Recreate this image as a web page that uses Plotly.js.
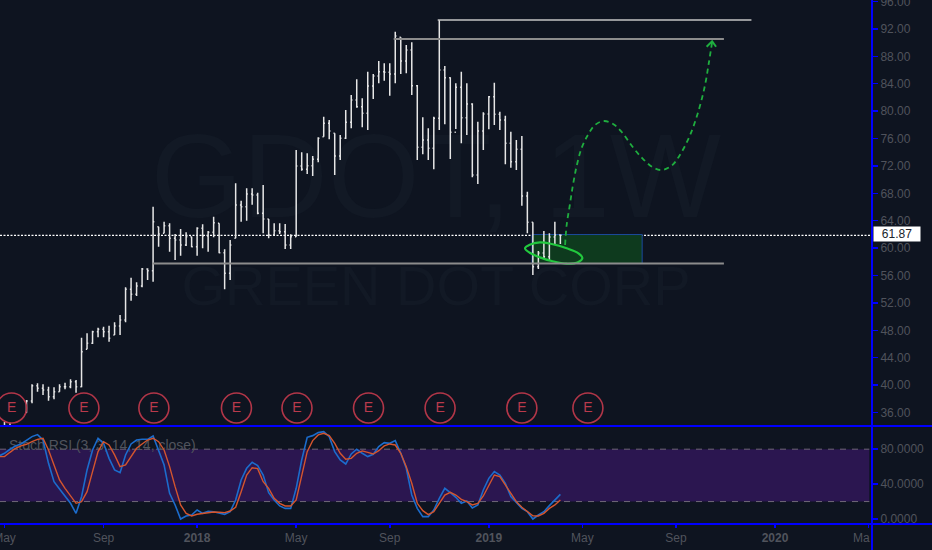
<!DOCTYPE html>
<html><head><meta charset="utf-8">
<script src="https://cdn.plot.ly/plotly-3.0.1.min.js"></script>
<style>html,body{margin:0;padding:0;background:#0e1420;overflow:hidden}#c{width:932px;height:550px}</style>
</head><body><div id="c"></div>
<script>
const weeks=['2017-05-01','2017-05-08','2017-05-15','2017-05-22','2017-05-29','2017-06-05','2017-06-12','2017-06-19','2017-06-26','2017-07-03','2017-07-10','2017-07-17','2017-07-24','2017-07-31','2017-08-07','2017-08-14','2017-08-21','2017-08-28','2017-09-04','2017-09-11','2017-09-18','2017-09-25','2017-10-02','2017-10-09','2017-10-16','2017-10-23','2017-10-30','2017-11-06','2017-11-13','2017-11-20','2017-11-27','2017-12-04','2017-12-11','2017-12-18','2017-12-25','2018-01-01','2018-01-08','2018-01-15','2018-01-22','2018-01-29','2018-02-05','2018-02-12','2018-02-19','2018-02-26','2018-03-05','2018-03-12','2018-03-19','2018-03-26','2018-04-02','2018-04-09','2018-04-16','2018-04-23','2018-04-30','2018-05-07','2018-05-14','2018-05-21','2018-05-28','2018-06-04','2018-06-11','2018-06-18','2018-06-25','2018-07-02','2018-07-09','2018-07-16','2018-07-23','2018-07-30','2018-08-06','2018-08-13','2018-08-20','2018-08-27','2018-09-03','2018-09-10','2018-09-17','2018-09-24','2018-10-01','2018-10-08','2018-10-15','2018-10-22','2018-10-29','2018-11-05','2018-11-12','2018-11-19','2018-11-26','2018-12-03','2018-12-10','2018-12-17','2018-12-24','2018-12-31','2019-01-07','2019-01-14','2019-01-21','2019-01-28','2019-02-04','2019-02-11','2019-02-18','2019-02-25','2019-03-04','2019-03-11','2019-03-18','2019-03-25','2019-04-01','2019-04-08'];
const open=[33.6,34.0,33.6,33.2,36.0,37.67,39.91,39.53,39.28,38.30,39.03,39.76,39.76,40.49,39.76,45.22,46.10,47.79,48.14,47.79,47.31,48.62,49.50,53.98,53.25,54.46,56.95,56.70,63.12,62.16,63.27,61.43,61.18,60.45,61.66,60.20,62.89,61.76,62.30,63.62,59.33,56.32,61.43,66.29,66.04,67.90,67.75,65.08,64.25,61.91,62.54,62.39,60.45,61.66,71.98,71.50,72.03,72.96,76.26,78.22,76.76,73.44,76.03,78.36,81.62,80.64,79.68,83.66,85.12,85.75,85.66,85.42,90.77,87.31,88.92,83.71,74.71,75.78,74.57,78.95,86.00,84.88,76.90,83.47,79.04,81.04,70.67,77.09,79.58,82.10,79.53,78.70,75.30,72.61,74.42,67.60,63.76,57.28,59.28,58.74,61.62,61.91];
const high=[34.6,34.5,33.9,33.9,37.82,40.11,40.26,40.11,39.76,39.67,40.11,40.35,40.84,40.74,46.92,47.56,47.94,48.38,48.52,48.67,49.17,50.23,54.27,55.68,55.00,57.09,57.05,66.04,63.12,63.85,63.62,62.06,62.79,62.30,61.66,63.03,63.47,62.49,64.58,63.62,59.82,61.18,69.46,66.92,68.73,68.73,68.09,69.21,64.25,63.62,63.62,63.52,62.01,74.32,73.98,73.84,73.44,76.17,79.18,78.70,76.76,76.51,80.16,82.35,84.64,81.87,85.75,85.42,87.31,86.98,86.98,91.59,90.77,89.65,90.04,83.81,79.09,77.49,79.18,93.30,86.58,84.93,84.06,85.75,84.06,81.14,78.45,79.82,82.20,84.15,79.91,79.33,76.99,75.78,76.36,68.23,63.76,59.57,62.49,62.16,63.85,61.91];
const low=[33.2,33.0,32.8,33.0,35.97,37.34,39.03,38.55,37.72,37.92,39.03,39.38,39.53,38.89,39.67,45.22,45.99,46.97,46.97,46.33,47.31,47.31,49.17,52.32,53.00,54.27,55.34,55.09,60.20,62.16,59.47,58.26,58.89,60.30,60.11,58.89,59.97,59.47,61.57,59.24,53.98,55.34,61.43,63.85,64.00,66.33,64.93,62.16,61.43,61.91,62.06,59.87,59.87,61.66,71.30,70.82,70.52,72.52,76.26,75.88,70.67,72.86,75.93,77.49,80.50,77.63,77.24,81.77,84.06,84.44,82.25,84.06,85.42,85.52,82.35,72.86,73.69,72.86,71.50,77.24,78.07,73.01,77.39,75.30,76.51,70.33,69.36,74.32,77.34,77.97,77.24,72.23,71.74,71.40,66.19,62.16,56.07,56.95,58.51,58.26,60.60,60.60];
const close=[34.0,33.6,33.2,33.5,37.67,39.91,39.53,39.28,38.30,39.03,39.76,39.76,40.49,39.76,44.87,46.10,47.79,48.14,47.79,46.83,48.62,49.50,53.98,53.25,54.46,56.95,56.70,63.85,62.06,63.27,61.43,61.18,60.45,61.66,60.20,62.89,61.76,62.30,63.71,59.33,56.32,60.45,66.29,66.04,67.90,67.75,65.08,64.25,61.91,62.54,62.39,60.45,61.66,71.98,71.50,72.03,72.96,76.03,78.22,77.09,73.44,76.03,78.36,81.62,80.64,79.68,83.66,85.12,85.75,85.66,85.42,90.97,87.31,88.92,83.71,74.71,75.78,74.57,78.95,86.00,84.88,76.90,83.47,79.04,81.04,70.67,77.09,79.58,82.10,79.53,78.70,75.30,72.61,74.42,67.60,63.76,57.28,59.28,58.74,61.62,61.91,61.87];

const stochDates=['2017-04-24'].concat(weeks);
const stochK=[72.2,75.3,79.9,83.7,86.0,89.8,94.4,96.7,90.5,63.8,42.8,34.4,26.4,18.0,6.5,25.6,56.2,79.1,92.5,86.7,69.5,56.2,53.1,73.4,86.0,90.5,91.3,91.3,95.1,79.1,61.9,29.4,16.1,0,3.5,4.6,10.3,6.5,8.8,8.4,7.3,5.4,8.4,21.8,44.7,58.1,65,61.1,50.4,30.2,21.8,15,12.2,12.2,35.2,67.6,93.6,95.5,99,100,94.4,77.2,67.6,63.0,74.5,79.9,75.3,71.5,74.1,82.9,87.5,86.7,89.8,75.3,58.1,27.5,12.2,2.7,2.7,10.3,23.7,35.2,30.2,24.9,18,20.6,12.6,16.1,33.3,46.6,54.3,50.4,40.9,25.6,19.1,12.2,8.4,0,4.6,8.4,15.3,21.8,28.3];
const stochD=[71.5,71.5,76.4,81,83.7,85.6,88.6,91.3,92.5,79.1,61.9,44.7,35.2,26.4,18,19.9,31.3,54.3,77.2,88.6,84.8,73.4,60,61.9,71.5,81,86,90.5,92.5,88.6,79.1,60,37.1,16.1,6.5,3.5,5.4,6.5,7.7,8.0,7.7,7.3,9.2,13.4,31.3,50.4,58.8,57.7,42.8,35.2,23.7,18,15,15,21.8,48.5,77.2,89.8,96.3,98.2,95.5,86.7,75.3,68.4,69.5,75.3,78,76.4,74.5,78.3,83.7,86,84.8,75.3,60,40.9,18,9.6,5,8.4,18,27.5,30.6,27.5,22.6,19.9,16.1,18,26.4,39,50.4,48.5,39,29.4,19.9,13.4,8.4,3.8,3.5,6.5,12.2,16.1,21.8];

const earningsDates=['2017-05-10','2017-08-10','2017-11-07','2018-02-20','2018-05-08','2018-08-07','2018-11-06','2019-02-18','2019-05-13'];
const earningsY=[36.65,36.65,36.65,36.65,36.65,36.65,36.65,36.65,36.65];
const earningsText=['E','E','E','E','E','E','E','E','E'];

const curveDates=['2019-04-14','2019-04-16','2019-04-20','2019-04-24','2019-04-29','2019-05-05','2019-05-13','2019-05-22','2019-06-02','2019-06-14','2019-06-25','2019-07-08','2019-07-21','2019-08-03','2019-08-14','2019-08-27','2019-09-07','2019-09-20','2019-10-01','2019-10-09','2019-10-14','2019-10-18'];
const curvePrices=[60.45,63.37,66.29,69.21,72.13,74.61,76.51,77.97,78.55,78.12,76.95,74.9,73.15,71.84,71.4,71.98,73.59,76.51,80.16,83.81,87.17,90.09];
const arrowDates=['2019-10-11','2019-10-18','2019-10-23'];
const arrowPrices=[89.4,90.2,89.4];
const ellipseDates=['2019-02-22','2019-02-28','2019-03-13','2019-03-28','2019-04-16','2019-05-01','2019-05-06','2019-05-01','2019-04-16','2019-03-28','2019-03-13','2019-02-28','2019-02-22'];
const ellipsePrices=[59.97,60.50,60.84,60.60,59.97,59.24,58.55,57.97,57.72,58.11,58.65,59.32,59.97];

const levelStart=['2018-11-03','2018-09-08','2017-11-05'];
const levelEnd=['2019-12-07','2019-11-02','2019-11-02'];
const levelPrice=[93.3,90.53,57.75];
const levelColor=['#c4c4c4','#8c8c8c','#8c8c8c'];
const lastPrice=61.87;
const boxDates=['2019-03-03','2019-07-21'];
const boxPrices=[57.75,61.98];
const bandLevels=[20,80];

const xTickVals=['2017-05-01','2017-09-04','2018-01-01','2018-05-07','2018-09-03','2019-01-07','2019-05-06','2019-09-02','2020-01-06','2020-05-04'];
const xTickText=['May','Sep','<b>2018</b>','May','Sep','<b>2019</b>','May','Sep','<b>2020</b>',''];
const priceTicks=[36,40,44,48,52,56,60,64,68,72,76,80,84,88,92,96];
const stochTicks=[0,40,80];

const GRAY='#50535c', BLUE='#0000ff', FONT='"Liberation Sans",Arial,sans-serif';
const data=[
 {type:'ohlc',x:weeks,open:open,high:high,low:low,close:close,xaxis:'x',yaxis:'y',tickwidth:0.22,
  increasing:{line:{color:'#e6e6e6',width:1.5}},decreasing:{line:{color:'#e6e6e6',width:1.5}},hoverinfo:'skip',showlegend:false},
 {type:'scatter',mode:'lines',x:ellipseDates,y:ellipsePrices,line:{color:'#22c83e',width:2.2,shape:'spline',smoothing:1},xaxis:'x',yaxis:'y',hoverinfo:'skip'},
 {type:'scatter',mode:'lines',x:curveDates,y:curvePrices,line:{color:'#1fae3f',width:1.8,dash:'5px,4px',shape:'spline'},xaxis:'x',yaxis:'y',hoverinfo:'skip'},
 {type:'scatter',mode:'lines',x:arrowDates,y:arrowPrices,line:{color:'#1fae3f',width:2},xaxis:'x',yaxis:'y',hoverinfo:'skip'},
 {type:'scatter',mode:'markers+text',x:earningsDates,y:earningsY,text:earningsText,textposition:'middle center',cliponaxis:false,
  textfont:{family:FONT,size:14,color:'#b93a4c'},marker:{symbol:'circle-open',size:30,color:'#b23648',line:{width:1.6,color:'#b23648'}},xaxis:'x',yaxis:'y',hoverinfo:'skip'},
 {type:'scatter',mode:'lines',x:stochDates,y:stochK,line:{color:'#1c6ccc',width:1.6},xaxis:'x',yaxis:'y2',hoverinfo:'skip'},
 {type:'scatter',mode:'lines',x:stochDates,y:stochD,line:{color:'#d4552e',width:1.4},xaxis:'x',yaxis:'y2',hoverinfo:'skip'}
];
function textBox(x0,x1,ytop,ybot,text,size,color,pos){
 return {type:'rect',layer:'below',xref:'paper',yref:'paper',x0:x0/872,x1:x1/872,y0:(524-ybot)/524,y1:(524-ytop)/524,fillcolor:'rgba(0,0,0,0)',line:{width:0},
  label:{text:text,textposition:pos||'middle center',font:{family:FONT,size:size,color:color}}};
}
const shapes=[
 textBox(100,772,100,230,'GDOT, 1W',118,'#121925'),
 textBox(100,772,250,310,'GREEN DOT CORP',56,'#121925'),
 {type:'line',layer:'below',xref:'paper',yref:'y',x0:0,x1:1,y0:lastPrice,y1:lastPrice,line:{color:'#ffffff',width:1.2,dash:'2px,1.5px'}},
 {type:'rect',layer:'below',xref:'paper',yref:'y2',x0:0,x1:869.3/872,y0:bandLevels[0],y1:bandLevels[1],fillcolor:'#2b1650',line:{width:0}},
 {type:'line',layer:'below',xref:'paper',yref:'y2',x0:0,x1:869.3/872,y0:bandLevels[0],y1:bandLevels[0],line:{color:'#6f6678',width:1,dash:'6px,6px'}},
 {type:'line',layer:'below',xref:'paper',yref:'y2',x0:0,x1:869.3/872,y0:bandLevels[1],y1:bandLevels[1],line:{color:'#6f6678',width:1,dash:'6px,6px'}},
 textBox(3,300,436,452,'Stoch RSI (3, 3, 14, 14, close)',14,GRAY,'middle left'),
 {type:'rect',layer:'below',xref:'x',yref:'y',x0:boxDates[0],x1:boxDates[1],y0:boxPrices[0],y1:boxPrices[1],fillcolor:'#0e3a1e',line:{color:'#1b4a9c',width:1}}
];
levelPrice.forEach((p,i)=>shapes.push({type:'line',layer:'above',xref:'x',yref:'y',x0:levelStart[i],x1:levelEnd[i],y0:p,y1:p,line:{color:levelColor[i],width:i===0?1.5:2}}));
// frame lines
shapes.push({type:'line',layer:'above',xref:'paper',yref:'paper',x0:1,x1:1,y0:-26/524,y1:1,line:{color:BLUE,width:2}});
shapes.push({type:'line',layer:'above',xref:'paper',yref:'paper',x0:0,x1:932/872,y0:98/524,y1:98/524,line:{color:BLUE,width:2}});
shapes.push({type:'line',layer:'above',xref:'paper',yref:'paper',x0:0,x1:932/872,y0:0,y1:0,line:{color:BLUE,width:2}});

const annotations=[
 {xref:'paper',yref:'paper',x:873/872,y:(524-234.3)/524,text:'61.87',showarrow:false,font:{family:FONT,size:12,color:'#20242c'},bgcolor:'#ffffff',xanchor:'left',yanchor:'middle',width:46,height:14,borderpad:0,align:'center'},
 {xref:'paper',yref:'paper',x:871.5/872,y:-14/524,text:'Ma',showarrow:false,font:{family:FONT,size:12,color:GRAY},xanchor:'right',yanchor:'middle',xshift:0}
];
const layout={
 width:932,height:550,margin:{l:0,r:60,t:0,b:26,pad:0},paper_bgcolor:'#0e1420',plot_bgcolor:'#0e1420',showlegend:false,
 shapes:shapes,annotations:annotations,
 xaxis:{type:'date',range:['2017-04-25 07:00','2020-05-08 08:00'],anchor:'y2',domain:[0,1],tickmode:'array',tickvals:xTickVals,ticktext:xTickText,ticks:'outside',ticklen:3,tickwidth:1.5,tickcolor:BLUE,tickfont:{family:FONT,size:12,color:GRAY},showgrid:false,zeroline:false,showline:false,rangeslider:{visible:false},ticklabeloverflow:'allow'},
 yaxis:{domain:[98/524,1],range:[34.03,96.22],anchor:'x',side:'right',tickmode:'array',tickvals:priceTicks,ticktext:priceTicks.map(v=>v.toFixed(2)),ticks:'outside',ticklen:5,tickwidth:1.5,tickcolor:BLUE,tickfont:{family:FONT,size:12,color:GRAY},showgrid:false,zeroline:false,showline:false,ticklabeloverflow:'allow'},
 yaxis2:{domain:[0,97/524],range:[-5.7,105.4],anchor:'x',side:'right',tickmode:'array',tickvals:stochTicks,ticktext:stochTicks.map(v=>v.toFixed(4)),ticks:'outside',ticklen:5,tickwidth:1.5,tickcolor:BLUE,tickfont:{family:FONT,size:12,color:GRAY},showgrid:false,zeroline:false,showline:false}
};
Plotly.newPlot('c',data,layout,{staticPlot:true,displayModeBar:false});
</script></body></html>
